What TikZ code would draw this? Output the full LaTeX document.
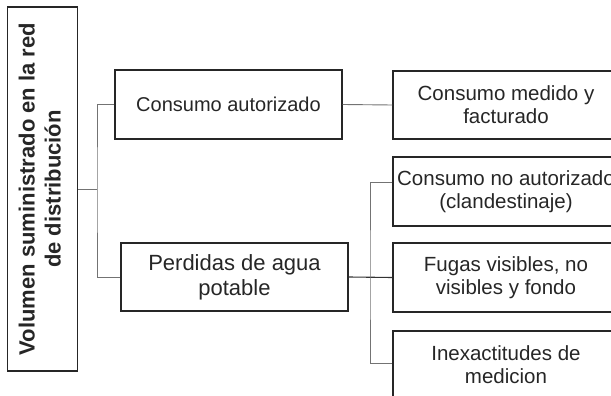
\documentclass[tikz,border=0pt]{standalone}
\usepackage{fontspec}
\usepackage{graphicx}
\setmainfont{Liberation Sans}
\begin{document}
\begin{tikzpicture}[x=1pt,y=-1pt,
  box/.style={draw=black!85, line width=1.3pt, inner sep=0pt, align=center, text=black!85},
  conn/.style={draw=black!55, line width=0.9pt},
  rtext/.style={font=\fontsize{20.5}{23}\selectfont}]
\useasboundingbox (0,0) rectangle (611,396);
\node[box, line width=1.6pt, minimum width=70pt, minimum height=364pt] (root) at (42.5,189)
  {\rotatebox{90}{\fontsize{22}{26}\selectfont\bfseries\begin{tabular}{@{}c@{}}Volumen suministrado en la red\\de distribución\end{tabular}}};
\node[box, rtext, font=\fontsize{20}{23}\selectfont, minimum width=227pt, minimum height=69pt] (ca) at (228.5,104.5) {Consumo autorizado};
\node[box, font=\fontsize{22}{25}\selectfont, minimum width=227pt, minimum height=68pt] (per) at (234.5,277) {Perdidas de agua\\potable};
\node[box, rtext, minimum width=226pt, minimum height=68pt] (cm) at (506,105) {Consumo medido y\\facturado};
\node[box, rtext, minimum width=226pt, minimum height=69pt] (cna) at (506,191.5) {Consumo no autorizado\\(clandestinaje)};
\node[box, rtext, minimum width=226pt, minimum height=69pt] (fug) at (506,277.5) {Fugas visibles, no\\visibles y fondo};
\node[box, rtext, minimum width=226pt, minimum height=68pt] (inx) at (506,365) {Inexactitudes de\\medicion};
\coordinate (j1) at (97,189);
\coordinate (j2) at (370,277);
\draw[conn] (root.east) -- (j1);
\draw[conn] (ca.west) -| (j1) |- (per.west);
\draw[conn] (ca.east) -- (cm.west);
\draw[conn, draw=black!80, line width=1.1pt] (per.east) -- (fug.west);
\draw[conn] ([yshift=9.5pt]cna.west) -| (j2) |- ([yshift=2pt]inx.west);
\end{tikzpicture}
\end{document}
